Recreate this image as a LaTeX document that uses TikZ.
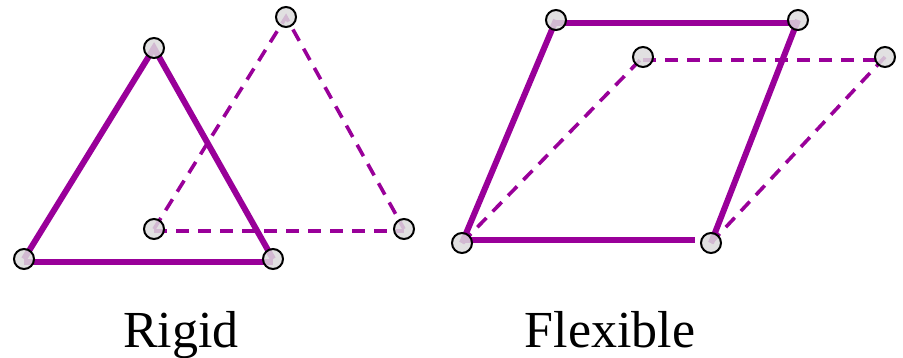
\documentclass[tikz,border=0pt]{standalone}
\usepackage{fontspec}
\setmainfont{Liberation Serif}
\begin{document}
\begin{tikzpicture}[x=1pt,y=-1pt,
  solidbar/.style={draw=barpurple,line width=6pt},
  dashbar/.style={draw=barpurple,line width=3.6pt,dash pattern=on 13pt off 9pt},
  joint/.style={circle,draw=black,line width=2pt,fill=jointgray,fill opacity=0.85,draw opacity=1,minimum size=20pt,inner sep=0pt},
  caption/.style={font=\fontsize{52}{60}\selectfont,anchor=base,inner sep=0pt}]
\definecolor{barpurple}{HTML}{990099}
\definecolor{jointgray}{HTML}{DCDADC}
\useasboundingbox (0,0) rectangle (903,358);
% Rigid
\coordinate (a1) at (154,48);
\coordinate (a2) at (24,259);
\coordinate (a3) at (273,259);
\coordinate (b1) at (286,17);
\coordinate (b2) at (154,229);
\coordinate (b3) at (404,229);
\draw[dashbar] (b2) -- (b1) -- (b3);
\draw[dashbar] ([yshift=-2pt]b2) -- ([yshift=-2pt]b3);
\draw[solidbar] (a2) -- (a1) -- (a3);
\draw[solidbar] ([yshift=-3pt]a2) -- ([yshift=-3pt]a3);
% Flexible
\coordinate (p1) at (556,20);
\coordinate (p2) at (798,20);
\coordinate (p3) at (711,243);
\coordinate (p4) at (462,243);
\coordinate (q1) at (643,57);
\coordinate (q2) at (885,57);
\draw[dashbar] (p4) -- (q1);
\draw[dashbar] ([yshift=-3pt]q1) -- ([yshift=-3pt]q2);
\draw[dashbar] (q2) -- (p3);
\draw[solidbar] (p4) -- (p1);
\draw[solidbar] ([yshift=-3pt]p1) -- ([yshift=-3pt]p2);
\draw[solidbar] (p2) -- (p3);
\draw[solidbar] ([yshift=3pt]p4) -- ([xshift=-16pt,yshift=3pt]p3);
% joints
\foreach \c in {a1,a2,a3,b1,b2,b3,p1,p2,p3,p4,q1,q2}
  \node[joint] (j\c) at (\c) {};
% captions
\node[caption] (rigid) at (181,347) {Rigid};
\node[caption] (flex) at (610,347) {Flexible};
\end{tikzpicture}
\end{document}
